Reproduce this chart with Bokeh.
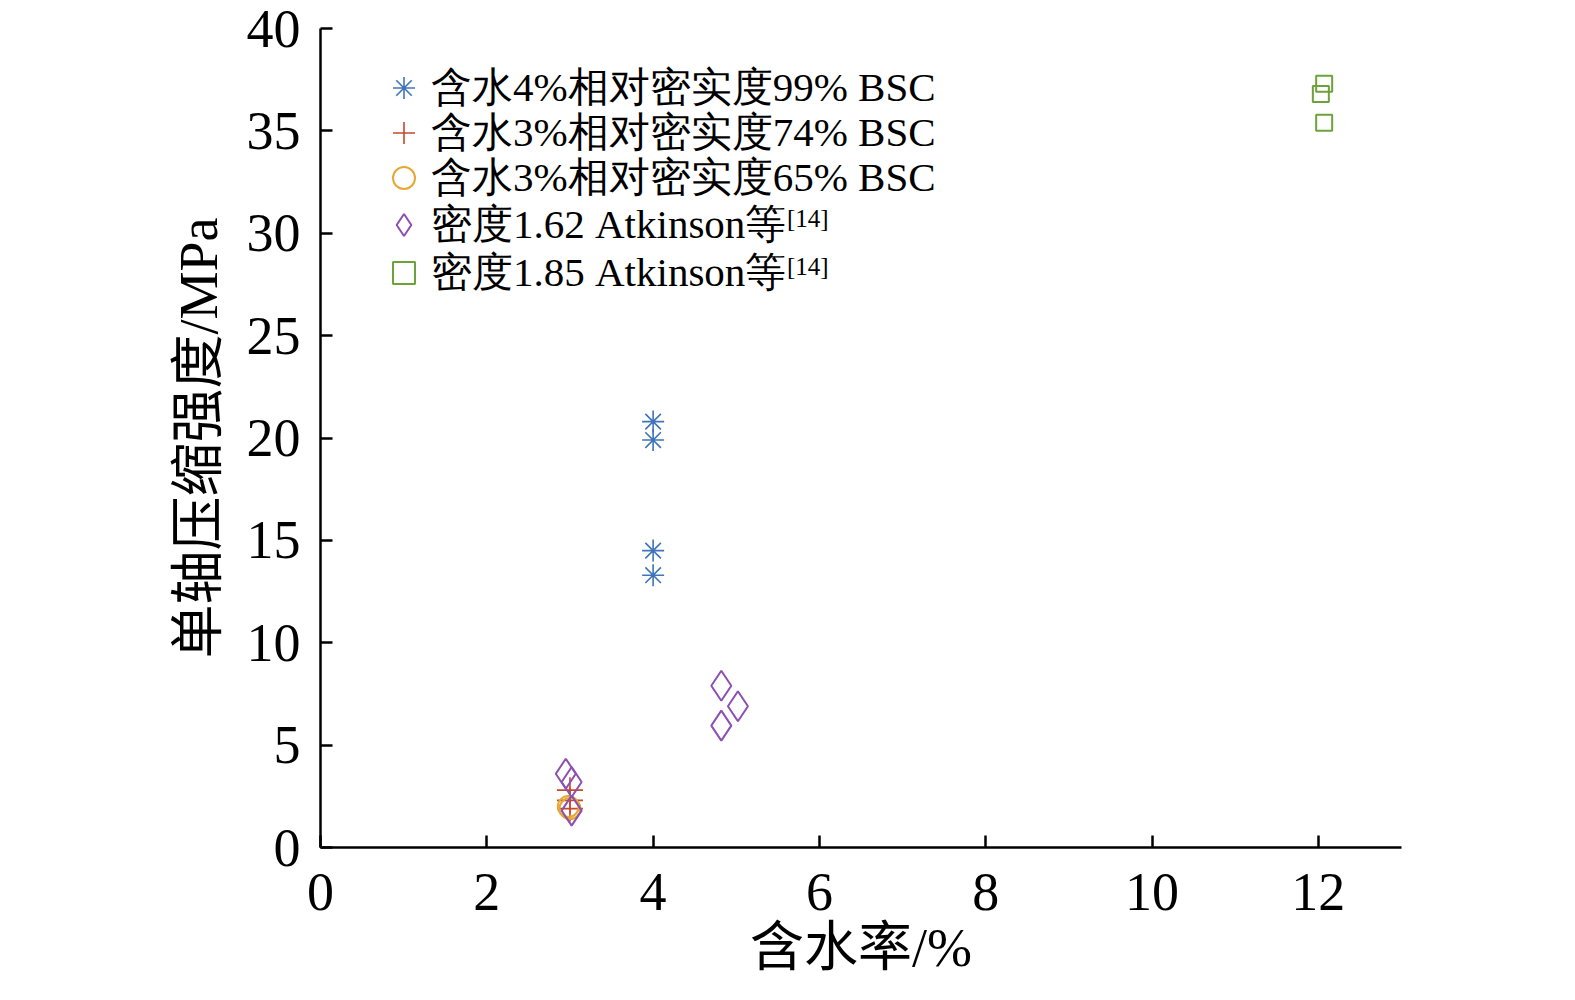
from bokeh.plotting import figure
from bokeh.models import Legend, LegendItem, Label, FixedTicker, Range1d
from bokeh.embed import file_html
from bokeh.resources import INLINE

# ---- data ----
s1_x = [4.0, 4.0, 4.0, 4.0]
s1_y = [20.8, 19.9, 14.5, 13.3]
s2_x = [3.0, 3.0, 3.0]
s2_y = [2.8, 2.3, 1.9]
s3_x = [2.98, 3.0]
s3_y = [2.0, 1.9]
s4_x = [4.82, 5.02, 4.82, 2.95, 3.02, 3.02]
s4_y = [7.9, 6.9, 5.95, 3.6, 3.2, 1.8]
s5_x = [12.07, 12.03, 12.07]
s5_y = [37.3, 36.8, 35.4]

labels = ["含水4%相对密实度99% BSC", "含水3%相对密实度74% BSC", "含水3%相对密实度65% BSC",
          "密度1.62 Atkinson等", "密度1.85 Atkinson等"]
sup = "[14]"
x_ticks = [0, 2, 4, 6, 8, 10, 12]
y_ticks = [0, 5, 10, 15, 20, 25, 30, 35, 40]
x_label = "含水率/%"
y_label = "单轴压缩强度/MPa"

FONT = "'Liberation Serif', 'Noto Sans CJK SC', serif"

p = figure(width=1559, height=984, output_backend="svg", toolbar_location=None,
           x_range=Range1d(0, 13.0), y_range=Range1d(0, 40),
           min_border_left=320, min_border_right=158, min_border_top=28, min_border_bottom=137)
p.outline_line_color = None
p.xgrid.visible = False
p.ygrid.visible = False

for ax in (p.xaxis[0], p.yaxis[0]):
    ax.major_tick_in = 12
    ax.major_tick_out = 0
    ax.minor_tick_line_color = None
    ax.axis_line_width = 2.5
    ax.major_tick_line_width = 2.5
    ax.axis_line_color = "black"
    ax.major_label_text_font = FONT
    ax.major_label_text_font_size = "54px"
    ax.major_label_text_color = "black"
    ax.axis_label_text_font = FONT
    ax.axis_label_text_font_size = "54px"
    ax.axis_label_text_font_style = "normal"
    ax.axis_label_text_color = "black"

p.xaxis.ticker = FixedTicker(ticks=x_ticks)
p.yaxis.ticker = FixedTicker(ticks=y_ticks)
p.xaxis.axis_label = x_label
p.yaxis.axis_label = y_label
p.xaxis.major_label_standoff = 26
p.xaxis.axis_label_standoff = 5
p.yaxis.major_label_standoff = 20
p.yaxis.axis_label_standoff = 15

r1 = p.scatter(s1_x, s1_y, marker="asterisk", size=22, line_color="#3f74b8", line_width=1.6)
r2 = p.scatter(s2_x, s2_y, marker="cross", size=26, line_color="#c9472b", line_width=1.6)
r3 = p.scatter(s3_x, s3_y, marker="circle", size=21, line_color="#e6a832", line_width=2,
               fill_color=None)
r4 = p.scatter(s4_x, s4_y, marker="diamond", size=30, line_color="#8c4fb3", line_width=2,
               fill_color=None)
r5 = p.scatter(s5_x, s5_y, marker="square", size=16, line_color="#6ba23a", line_width=2,
               fill_color=None)

# one legend per row so that the row pitch matches the reference
row_vy = [732, 687, 642, 595, 547]
for i, r in enumerate([r1, r2, r3, r4, r5]):
    leg = Legend(items=[LegendItem(label=labels[i], renderers=[r])], location=(56, row_vy[i]))
    leg.border_line_color = None
    leg.background_fill_alpha = 0
    leg.padding = 0
    leg.margin = 0
    leg.spacing = 0
    leg.glyph_width = 55
    leg.glyph_height = 55
    leg.label_height = 46
    leg.label_standoff = 0
    leg.label_text_font = "Liberation Serif"
    leg.label_text_font_size = "41px"
    leg.label_text_color = "black"
    p.add_layout(leg)

for yy in (30.7, 28.4):
    p.add_layout(Label(x=5.61, y=yy, text=sup, text_font="Liberation Serif", text_font_size="25px",
                       text_color="black", text_baseline="middle"))

open("out.html", "w").write(file_html(p, INLINE))
